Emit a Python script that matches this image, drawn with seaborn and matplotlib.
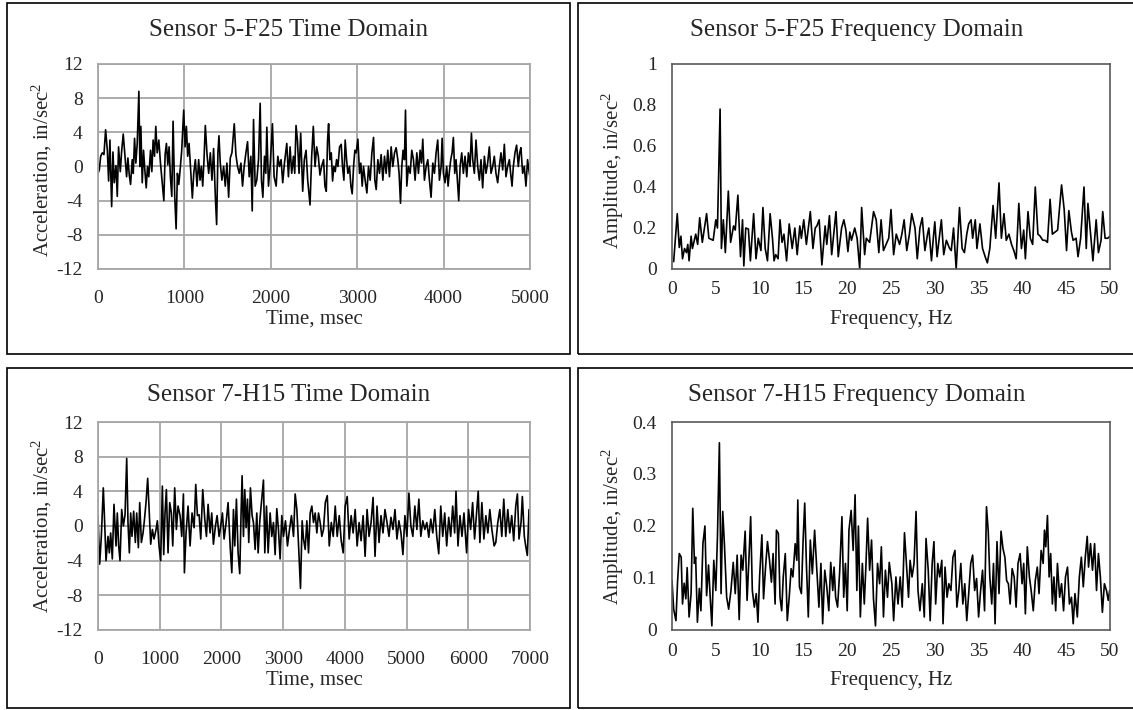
import matplotlib
matplotlib.use("Agg")
import matplotlib.pyplot as plt
from matplotlib.patches import Rectangle
from matplotlib.ticker import FormatStrFormatter
import numpy as np
import seaborn as sns

# ---- data ----
time_5f25 = [0, 15, 31, 50, 69, 88, 108, 123, 138, 158, 173, 188, 208, 223, 238, 258, 273, 292, 312, 331,
             346, 362, 377, 396, 408, 423, 438, 454, 473, 485, 496, 512, 527, 542, 558, 573, 588, 608, 623, 638,
             654, 669, 685, 704, 723, 742, 762, 777, 792, 808, 823, 838, 854, 869, 888, 904, 919, 935, 954, 969,
             992, 1008, 1023, 1038, 1054, 1073, 1092, 1108, 1127, 1146, 1165, 1181, 1196, 1212, 1227, 1242, 1262, 1281, 1300, 1319,
             1338, 1358, 1373, 1388, 1400, 1415, 1434, 1454, 1473, 1492, 1512, 1531, 1550, 1577, 1596, 1615, 1635, 1654, 1673, 1692,
             1712, 1731, 1750, 1769, 1785, 1800, 1819, 1838, 1858, 1877, 1892, 1908, 1927, 1942, 1954, 1973, 1992, 2019, 2038, 2062,
             2081, 2100, 2119, 2138, 2158, 2185, 2204, 2223, 2242, 2262, 2277, 2292, 2308, 2327, 2346, 2369, 2388, 2408, 2427, 2454,
             2473, 2492, 2512, 2531, 2550, 2569, 2588,
             2611, 2626, 2642, 2657, 2669, 2684, 2700, 2715, 2730, 2746,
             2761, 2777, 2796, 2815, 2830, 2846, 2861, 2877, 2892, 2911,
             2927, 2942, 2958, 2973, 2988, 3008, 3027, 3042, 3058, 3073,
             3092, 3112, 3131, 3150, 3170, 3189, 3204, 3220, 3239, 3258,
             3277, 3297, 3316, 3335, 3354, 3373, 3393, 3412, 3432, 3451,
             3470, 3485, 3501, 3516, 3531, 3547, 3559, 3574, 3593, 3613,
             3632, 3651, 3670, 3690, 3709, 3728, 3744, 3759, 3778, 3798,
             3817, 3836, 3855, 3875, 3894, 3913, 3932, 3952, 3971, 3983,
             3998, 4017, 4036, 4052, 4067, 4083, 4098, 4113, 4129, 4144,
             4160, 4175, 4191, 4210, 4229, 4248, 4268, 4287, 4306, 4322,
             4337, 4356, 4375, 4395, 4414, 4433, 4452, 4472, 4491, 4510,
             4529, 4549, 4568, 4587, 4606, 4626, 4645, 4664, 4684, 4703,
             4722, 4741, 4761, 4776, 4792, 4807, 4826, 4845, 4865, 4880,
             4895, 4915, 4934, 4953, 4972, 4992, 5000]
accel_5f25 = [-0.8, -0.4, 1.2, 1.6, 1.4, 4.3, 1.9, -1.7, 3.1, -4.7, 1.7, -1.9, 0.1, -3.5, 2.3, -0.6, 1.7, 3.8, 1.2, -1.2,
              1.0, -1.0, -2.1, 0.8, -0.8, 3.3, 0.4, 2.7, 8.8, 0, 4.7, -1.9, 1.9, -0.4, -2.5, 0, -1.2, 1.9, -0.6, 3.1,
              1.2, 4.7, 1.6, 3.1, 0.4, -1.7, -4.0, 1.4, 2.7, 0.2, 2.3, -1.2, -3.5, 5.3, -3.5, -7.3, -0.8, -2.1, 0, 1.9,
              6.6, 2.3, 4.7, 1.2, 2.7, -0.4, -3.7, -0.8, 0.8, -2.3, 0.8, -1.6, 0, -2.3, 0.8, 4.8, 1.4, -0.8, 1.6, -1.6,
              2.1, -3.5, -6.8, 1.6, 3.6, 0.4, -1.6, 0, -2.3, 0.4, -3.6, 1.0, 1.6, 5.0, 1.4, 0, -0.8, 0.4, -2.3, 0,
              1.6, 2.9, -1.2, 1.2, -5.2, 5.5, -2.3, -1.6, 0.8, 7.4, -1.6, -3.6, 1.2, -0.8, 4.6, -2.3, 0, 5.0, -1.2, -2.3,
              1.2, 0, 0.8, -1.9, 0.4, 2.7, -1.2, 2.3, -0.8, 1.2, -0.8, 4.8, 3.1, -0.8, 3.9, -2.9, 0.8, 1.9, -1.6, -4.5,
              1.2, 4.7, 0, 2.3, 1.2, -1.0, 0,
              0.8, -2.3, -2.9, 3.1, 5.0, 0.8, 1.6, -1.7, 0, -0.6,
              0.8, 0, 2.3, 2.6, 0, -1.6, 3.1, 0.8, -0.8, 0,
              -2.3, -3.2, 0, 1.9, 1.6, 3.2, -0.8, 0.4, -2.3, 0,
              -1.6, -3.1, 0, -1.6, 1.6, 3.4, -1.6, -2.7, 0.8, -0.8,
              1.4, -1.6, 1.2, -0.8, 1.9, -1.2, 2.3, 0, 1.6, 2.2,
              0.8, -0.8, -4.3, 0, 1.9, 0.8, 6.6, -2.3, 0, -0.8,
              1.9, 0.8, -1.6, 1.6, -0.8, 1.9, 0.4, 3.2, -1.6, 0,
              0.8, -1.6, -3.6, 0.4, -0.8, 1.6, 3.1, -1.6, 0, 3.3,
              -0.8, -1.9, 0, -2.3, -0.6, 0.8, 1.6, 3.4, -0.8, 0.8,
              -1.6, -4.0, 0, 1.6, -0.8, 1.2, -1.2, 1.6, 0, 3.9,
              0.8, -0.8, 3.1, 0, -1.6, 0.8, -2.5, 1.2, -0.8, 0.4,
              2.3, -0.8, 0, 1.2, -0.8, -1.9, 0, 1.6, -0.4, 2.6,
              -1.2, 0, 0.8, -0.8, -2.3, 0, 1.6, 2.5, 0, 1.6,
              2.2, -0.8, 0, -2.3, 0.8, -0.8, -1.2]

freq_5f25 = [0.19, 0.60, 0.83, 1.02, 1.20, 1.43, 1.65, 1.80, 1.95, 2.18, 2.33, 2.71, 2.93, 3.16, 3.46, 3.95, 4.21, 4.70, 5.00, 5.19,
             5.49, 5.64, 5.86, 6.09, 6.43, 6.69, 7.03, 7.22, 7.52, 7.82, 8.05, 8.20, 8.42, 8.72, 8.95, 9.32, 9.59, 9.85, 10.15, 10.38,
             10.64, 10.90, 11.20, 11.47, 11.65, 11.84, 12.11, 12.33, 12.56, 12.78, 13.08, 13.38, 13.72, 14.02, 14.29, 14.59, 14.77, 15.04, 15.34, 15.79,
             16.09, 16.35, 16.54, 16.80, 17.11, 17.48, 17.67, 17.97, 18.23, 18.72, 18.98, 19.36, 19.62, 19.85, 20.08, 20.30, 20.49, 20.86, 21.13, 21.43,
             21.65, 21.99, 22.18, 22.56, 23.01, 23.31, 23.61, 23.87, 24.14, 24.44, 24.74, 25.0, 25.3, 25.6, 25.98, 26.24, 26.5, 26.8, 27.1, 27.37,
             27.74, 28.0, 28.3, 28.57, 28.87, 29.17, 29.32, 29.62, 29.81, 30.0, 30.26, 30.56, 30.75, 31.02, 31.32, 31.69, 31.88, 32.14, 32.44, 32.82,
             33.12, 33.38, 33.65, 33.87, 34.14, 34.32, 34.62, 34.81, 35.15, 35.45, 35.75, 36.0, 36.28, 36.65, 36.95, 37.33, 37.6, 37.9, 38.16, 38.46,
             38.76, 39.02, 39.29, 39.59, 39.89, 40.15, 40.34, 40.64, 40.9, 41.17, 41.47, 41.77, 42.03, 42.33, 42.59, 42.86, 43.16, 43.42, 43.72, 44.02,
             44.47, 44.77, 45.04, 45.3, 45.6, 45.79, 46.13, 46.35, 46.65, 47.03, 47.29, 47.48, 47.78, 48.05, 48.42, 48.68, 48.98, 49.17, 49.44, 49.74,
             50.0]
amp_5f25 = [0.036, 0.27, 0.105, 0.16, 0.05, 0.10, 0.08, 0.12, 0.04, 0.16, 0.10, 0.17, 0.12, 0.25, 0.13, 0.27, 0.15, 0.14, 0.24, 0.20,
            0.78, 0.10, 0.24, 0.08, 0.38, 0.13, 0.21, 0.19, 0.36, 0.06, 0.24, 0.015, 0.20, 0.195, 0.04, 0.27, 0.05, 0.15, 0.09, 0.30,
            0.10, 0.04, 0.27, 0.15, 0.04, 0.07, 0.05, 0.24, 0.13, 0.17, 0.04, 0.22, 0.10, 0.20, 0.07, 0.21, 0.15, 0.24, 0.12, 0.28,
            0.10, 0.20, 0.21, 0.24, 0.02, 0.21, 0.12, 0.26, 0.07, 0.28, 0.06, 0.20, 0.24, 0.19, 0.085, 0.18, 0.14, 0.20, 0.15, 0.0,
            0.30, 0.07, 0.15, 0.13, 0.28, 0.24, 0.08, 0.24, 0.09, 0.12, 0.15, 0.29, 0.07, 0.17, 0.12, 0.17, 0.24, 0.09, 0.17, 0.27,
            0.20, 0.05, 0.20, 0.25, 0.09, 0.17, 0.20, 0.04, 0.14, 0.23, 0.06, 0.17, 0.24, 0.07, 0.14, 0.10, 0.09, 0.20, 0.0, 0.30,
            0.10, 0.08, 0.17, 0.22, 0.24, 0.15, 0.24, 0.10, 0.22, 0.10, 0.06, 0.03, 0.10, 0.31, 0.15, 0.42, 0.15, 0.27, 0.14, 0.17,
            0.12, 0.09, 0.05, 0.32, 0.10, 0.19, 0.05, 0.28, 0.15, 0.12, 0.40, 0.17, 0.16, 0.14, 0.14, 0.13, 0.34, 0.17, 0.18, 0.19,
            0.41, 0.29, 0.09, 0.285, 0.18, 0.14, 0.15, 0.06, 0.15, 0.40, 0.10, 0.32, 0.17, 0.04, 0.24, 0.08, 0.14, 0.28, 0.15, 0.15,
            0.16]

time_7h15 = [0, 27, 54, 86, 108, 130, 162, 184, 205, 232,
             259, 292, 313, 335, 357, 384, 411, 438, 465, 486,
             508, 530, 551, 578, 605, 627, 654, 676, 703, 730,
             751, 778, 805, 832, 854, 881, 908, 941, 962, 989,
             1016, 1043, 1065, 1086, 1108, 1135, 1162, 1189, 1211, 1243,
             1270, 1297, 1330, 1357, 1384, 1400, 1427, 1459, 1492, 1524,
             1557, 1584, 1611, 1638, 1665, 1697, 1730, 1757, 1784, 1816,
             1843, 1870, 1903, 1930, 1962, 1989, 2016, 2043, 2076, 2108,
             2141, 2168, 2195, 2216, 2243, 2270, 2297, 2319, 2335, 2357,
             2378, 2400, 2422, 2443, 2470, 2497, 2519, 2546, 2573, 2595,
             2622, 2654, 2681, 2703, 2730, 2757, 2789, 2816, 2843, 2870,
             2897, 2924, 2951, 2978, 3005, 3038, 3070, 3103, 3135, 3168,
             3195, 3222, 3249, 3281, 3308, 3330, 3357, 3384, 3411, 3438,
             3465, 3492, 3519, 3546, 3573, 3600, 3627, 3654,
             3683, 3715, 3747, 3780, 3812, 3844, 3876, 3909, 3941, 3973,
             4005, 4038, 4070, 4102, 4134, 4167, 4199, 4231, 4263, 4296,
             4328, 4360, 4392, 4425, 4457, 4489, 4521, 4554, 4586, 4618,
             4650, 4683, 4715, 4747, 4780, 4812, 4844, 4876, 4909, 4941,
             4973, 5005, 5038, 5070, 5102, 5134, 5167, 5199, 5231, 5263,
             5296, 5328, 5360, 5392, 5425, 5457, 5489, 5521, 5554, 5586,
             5618, 5650, 5683, 5715, 5747, 5779, 5801, 5833, 5865, 5898,
             5930, 5973, 6005, 6038, 6070, 6102, 6134, 6161, 6188, 6220,
             6253, 6285, 6317, 6349, 6382, 6419, 6446, 6478, 6511, 6543,
             6575, 6607, 6640, 6672, 6704, 6736, 6769, 6796, 6822, 6855,
             6876, 6908, 6930, 6957, 6984, 7000]
accel_7h15 = [1.2, -4.4, -1.2, 4.4, 0.4, -4, -1.2, -3.1, -0.8, -3.8,
              2.5, -2.3, 1.5, -2.3, -4, 1.9, 0, 1.3, 7.8, 0.4,
              -3.1, 1.5, -1.2, 1.7, -1.9, 1.5, -2.5, 2.7, -1.9, -0.8,
              0.6, 2.7, 5.5, 1.2, -2.1, -0.4, -1.5, -0.4, 0.6, -2.3,
              -4, 4.6, -3.3, 1.5, 4.2, -3.1, 2.7, 1.5, -2.3, 4.4,
              -0.4, 2.3, 1.2, -1.2, 3.7, -5.4, -0.8, 2.3, -2.3, 1.5,
              -0.2, 4.8, 1.2, 1.3, -1.5, 4.2, 0.8, -1.2, 2.5, -0.8,
              1.5, -2.1, 0, 1.2, -1.2, 0, 1.5, -1.5, 0.4, 2.7,
              -2.3, -5.4, 1.9, -2.3, 3.1, -3.1, -5.5, 1.7, 5.8, -1.2,
              4.2, -0.2, 3.1, -1.9, 4.4, 1.2, 0.4, -2.7, 1.5, -3.1,
              0.6, 3.1, 5.3, -3.1, 2.3, -3.1, 1.5, -1.2, 0.4, -3.3,
              2, -0.4, -3.8, 1.2, -1.2, 0.6, -2.3, -0.4, 1.2, -1.2,
              3.7, 1.9, -2.1, -7.2, 0.6, -1.5, -2.7, 0.6, -3.1, 1.5,
              2.3, 0.4, 1.5, -0.8, 1.5, 0.4, -1.2, -0.4,
              2.7, 3.5, -2.3, 0.4, -1.2, 2.3, -1.2, 1.2, -1.7, -3.1,
              2.3, 3.4, -1.5, 1.2, -0.8, 1.9, -2.3, 0.4, -1.7, 1.2,
              -3.5, 1.9, -1.2, 0.4, 3.3, -3.5, 2.3, -1.9, 1.2, -0.8,
              1.9, 0.4, -1.2, 1.0, -0.4, 1.9, -1.5, 0.6, -0.8, -3.3,
              1.2, -1.2, 3.8, 0, -1.2, 2.3, -0.4, 3.1, -1.2, 0.6,
              -0.4, 0.4, -1.3, 0.8, -0.8, 1.9, -1.2, -3.2, 2.3, -1.2,
              1.5, -2.3, 1.0, -1.2, 2.3, -0.8, 4.0, -2.3, 1.2, -1.2,
              1.5, -3.1, 1.9, -0.4, 2.7, -1.5, 1.5, 4.0, -1.9, 2.7,
              -1.5, 1.2, -0.8, 1.9, -0.4, -2.3, -1.9, 0.4, 1.9, -1.2,
              3.1, -1.2, 1.9, -0.8, 1.2, -1.7, 2.3, 3.7, -1.5, 0.4,
              3.4, -1.2, -2.3, -3.4, 1.9, -0.4]

freq_7h15 = [0.0, 0.19, 0.45, 0.64, 0.83, 1.05, 1.2, 1.39, 1.58, 1.73, 1.95, 2.18, 2.37, 2.56, 2.7, 2.9, 3.12, 3.3, 3.53, 3.76,
             3.95, 4.17, 4.36, 4.55, 4.77, 5.0, 5.19, 5.41, 5.6, 5.79, 5.98, 6.24, 6.47, 6.73, 6.99, 7.22, 7.44, 7.67, 7.89, 8.08,
             8.35, 8.57, 8.76, 8.98, 9.17, 9.4, 9.62, 9.81, 10.0, 10.26, 10.45, 10.68, 10.9, 11.13, 11.35, 11.54, 11.77, 11.92, 12.14, 12.33,
             12.52, 12.7, 12.93, 13.16, 13.38, 13.6, 13.8, 14.06, 14.25, 14.36, 14.55, 14.77, 14.96, 15.15, 15.34, 15.56, 15.79, 16.02, 16.28, 16.54,
             16.77, 17.0, 17.2, 17.44, 17.67, 17.9, 18.12, 18.35, 18.5, 18.68, 18.9, 19.14, 19.4, 19.6, 19.8, 20.0, 20.2, 20.45, 20.68, 20.9,
             21.1, 21.28, 21.5, 21.73, 21.95, 22.14, 22.33, 22.56, 22.78, 23.0, 23.23, 23.46, 23.7, 23.9, 24.14, 24.36, 24.6, 24.8, 25.1, 25.3,
             25.56, 25.8, 26.05, 26.28, 26.54, 26.8, 27.0, 27.18, 27.4, 27.63, 27.86, 28.08, 28.3, 28.57, 28.8, 29.0, 29.25, 29.47, 29.7, 29.9,
             30.1, 30.34, 30.56, 30.8, 30.94, 31.17, 31.4, 31.6, 31.84, 32.07, 32.3, 32.52, 32.74, 32.97, 33.2, 33.42, 33.65, 33.87, 34.1, 34.32,
             34.55, 34.77, 35.0, 35.23, 35.45, 35.68, 35.9, 36.1, 36.28, 36.5, 36.7, 36.88, 37.1, 37.33, 37.56, 37.78, 38.0, 38.2, 38.4, 38.6,
             38.83, 39.06, 39.28, 39.5, 39.74, 39.96, 40.15, 40.34, 40.56, 40.8, 41.0, 41.24, 41.47, 41.7, 41.9, 42.14, 42.37, 42.52, 42.67, 42.86,
             43.05, 43.23, 43.42, 43.6, 43.8, 44.0, 44.25, 44.47, 44.7, 44.92, 45.15, 45.37, 45.6, 45.8, 46.0, 46.27, 46.5, 46.73, 46.95, 47.18,
             47.4, 47.55, 47.78, 48.0, 48.24, 48.46, 48.68, 48.9, 49.13, 49.36, 49.6, 49.8, 49.96]
amp_7h15 = [0.095, 0.04, 0.018, 0.095, 0.147, 0.14, 0.05, 0.09, 0.06, 0.12, 0.025, 0.07, 0.234, 0.128, 0.14, 0.015, 0.08, 0.037, 0.166, 0.2,
            0.066, 0.125, 0.063, 0.008, 0.134, 0.076, 0.18, 0.36, 0.07, 0.228, 0.166, 0.063, 0.04, 0.076, 0.13, 0.07, 0.144, 0.02, 0.144, 0.115,
            0.19, 0.057, 0.128, 0.218, 0.076, 0.044, 0.07, 0.015, 0.102, 0.183, 0.06, 0.121, 0.17, 0.134, 0.092, 0.147, 0.05, 0.192, 0.186, 0.063,
            0.037, 0.102, 0.147, 0.018, 0.063, 0.118, 0.102, 0.166, 0.134, 0.25, 0.083, 0.07, 0.17, 0.244, 0.128, 0.025, 0.173, 0.108, 0.192, 0.115,
            0.044, 0.128, 0.012, 0.115, 0.083, 0.037, 0.13, 0.076, 0.121, 0.063, 0.044, 0.112, 0.218, 0.063, 0.128, 0.037, 0.192, 0.23, 0.153, 0.26,
            0.076, 0.2, 0.025, 0.128, 0.05, 0.125, 0.215, 0.115, 0.173, 0.06, 0.008, 0.128, 0.089, 0.16, 0.025, 0.115, 0.063, 0.13, 0.089, 0.018,
            0.102, 0.05, 0.102, 0.044, 0.187, 0.115, 0.063, 0.134, 0.102, 0.128, 0.228, 0.076, 0.037, 0.089, 0.025, 0.176, 0.115, 0.018, 0.128, 0.17,
            0.05, 0.128, 0.102, 0.134, 0.012, 0.121, 0.063, 0.089, 0.076, 0.14, 0.153, 0.044, 0.076, 0.128, 0.05, 0.089, 0.018, 0.07, 0.128, 0.144,
            0.076, 0.099, 0.025, 0.076, 0.115, 0.037, 0.237, 0.19, 0.102, 0.05, 0.128, 0.012, 0.17, 0.07, 0.19, 0.157, 0.14, 0.095, 0.089, 0.05,
            0.118, 0.102, 0.044, 0.128, 0.147, 0.089, 0.128, 0.031, 0.16, 0.102, 0.076, 0.037, 0.095, 0.121, 0.07, 0.153, 0.128, 0.192, 0.16, 0.22,
            0.102, 0.147, 0.05, 0.102, 0.037, 0.128, 0.063, 0.089, 0.037, 0.102, 0.121, 0.05, 0.063, 0.012, 0.07, 0.025, 0.102, 0.14, 0.083, 0.14,
            0.18, 0.121, 0.166, 0.115, 0.166, 0.076, 0.147, 0.102, 0.034, 0.089, 0.076, 0.057, 0.076]

titles = ["Sensor 5-F25 Time Domain", "Sensor 5-F25 Frequency Domain",
          "Sensor 7-H15 Time Domain", "Sensor 7-H15 Frequency Domain"]
time_label = "Time, msec"
freq_label = "Frequency, Hz"
accel_label = "Acceleration, in/sec$^2$"
amp_label = "Amplitude, in/sec$^2$"

sns.set_style("white")
plt.rcParams["font.family"] = ["Liberation Serif", "DejaVu Serif"]
plt.rcParams["mathtext.fontset"] = "custom"
plt.rcParams["mathtext.rm"] = "Liberation Serif"
plt.rcParams["mathtext.it"] = "Liberation Serif"
plt.rcParams["axes.unicode_minus"] = False

W, H = 1133, 710
fig = plt.figure(figsize=(W / 100, H / 100), dpi=100)
fig.patch.set_facecolor("white")


def px_axes(l, t, r, b):
    return fig.add_axes([l / W, 1 - b / H, (r - l) / W, (b - t) / H])


def box(l, t, r, b):
    fig.patches.append(Rectangle((l / W, 1 - b / H), (r - l) / W, (b - t) / H,
                                 transform=fig.transFigure, fill=False,
                                 edgecolor="black", linewidth=1.2))


TICK_FS = 14
LABEL_FS = 15
TITLE_FS = 18


def time_panel(ax, t, a, xmax):
    sns.lineplot(x=t, y=a, ax=ax, color="black", linewidth=1.2, estimator=None, sort=False)
    ax.set_xlim(0, xmax)
    ax.set_ylim(-12, 12)
    ax.set_xticks(np.arange(0, xmax + 1, 1000))
    ax.set_yticks(np.arange(-12, 13, 4))
    ax.grid(True, color="#a6a6a6", linewidth=1.3)
    ax.set_axisbelow(True)
    for s in ax.spines.values():
        s.set_color("#a6a6a6")
        s.set_linewidth(1.3)
    ax.tick_params(length=0, labelsize=TICK_FS)
    ax.tick_params(axis="x", pad=15)
    ax.tick_params(axis="y", pad=11)
    ax.set_xlabel("")
    ax.set_ylabel("")


def freq_panel(ax, f, a, ymax, ystep):
    sns.lineplot(x=f, y=a, ax=ax, color="black", linewidth=1.2, estimator=None, sort=False)
    ax.set_xlim(0, 50)
    ax.set_ylim(0, ymax)
    ax.set_xticks(np.arange(0, 51, 5))
    ax.set_yticks(np.arange(0, ymax + ystep / 2, ystep))
    ax.yaxis.set_major_formatter(FormatStrFormatter("%g"))
    ax.grid(False)
    for s in ax.spines.values():
        s.set_color("#595959")
        s.set_linewidth(1.2)
    ax.tick_params(direction="out", length=5, width=1, color="#595959", labelsize=TICK_FS)
    ax.tick_params(axis="x", pad=4)
    ax.tick_params(axis="y", pad=6)
    ax.set_xlabel("")
    ax.set_ylabel("")


# chart boxes
box(7, 3, 570, 354)
box(578, 3, 1136, 354)
box(7, 368, 570, 708)
box(578, 368, 1136, 708)

ax_tl = px_axes(98, 64, 530, 269)
ax_tr = px_axes(672, 64, 1110, 269)
ax_bl = px_axes(98, 422, 530, 630)
ax_br = px_axes(672, 422, 1110, 630)

time_panel(ax_tl, time_5f25, accel_5f25, 5000)
time_panel(ax_bl, time_7h15, accel_7h15, 7000)
freq_panel(ax_tr, freq_5f25, amp_5f25, 1.0, 0.2)
freq_panel(ax_br, freq_7h15, amp_7h15, 0.4, 0.1)

# titles and axis labels, placed in pixel coords of the reference
fig.text(288.5 / W, 1 - 30 / H, titles[0], ha="center", va="center", fontsize=TITLE_FS)
fig.text(857 / W, 1 - 30 / H, titles[1], ha="center", va="center", fontsize=TITLE_FS)
fig.text(288.5 / W, 1 - 395 / H, titles[2], ha="center", va="center", fontsize=TITLE_FS)
fig.text(857 / W, 1 - 395 / H, titles[3], ha="center", va="center", fontsize=TITLE_FS)

fig.text(314 / W, 1 - 319 / H, time_label, ha="center", va="center", fontsize=LABEL_FS)
fig.text(891 / W, 1 - 319 / H, freq_label, ha="center", va="center", fontsize=LABEL_FS)
fig.text(314 / W, 1 - 680 / H, time_label, ha="center", va="center", fontsize=LABEL_FS)
fig.text(891 / W, 1 - 680 / H, freq_label, ha="center", va="center", fontsize=LABEL_FS)

fig.text(42 / W, 1 - 170 / H, accel_label, ha="center", va="center", rotation=90, fontsize=LABEL_FS)
fig.text(613 / W, 1 - 170 / H, amp_label, ha="center", va="center", rotation=90, fontsize=LABEL_FS)
fig.text(42 / W, 1 - 526 / H, accel_label, ha="center", va="center", rotation=90, fontsize=LABEL_FS)
fig.text(613 / W, 1 - 526 / H, amp_label, ha="center", va="center", rotation=90, fontsize=LABEL_FS)

fig.savefig("out.png", dpi=100, facecolor="white")
